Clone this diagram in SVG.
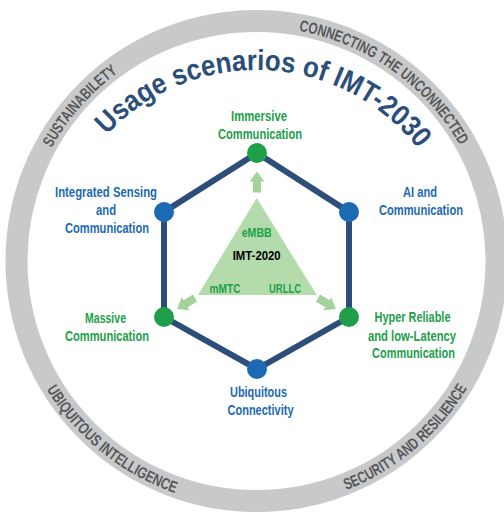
<svg xmlns="http://www.w3.org/2000/svg" width="504" height="513" viewBox="0 0 504 513">
<style>
.lbl{font-family:"Liberation Sans",Arial,sans-serif;font-weight:bold;font-size:15px;text-anchor:middle}
.g{fill:#22a04b}
.b{fill:#1d6ab3}
.ring{font-family:"Liberation Sans",Arial,sans-serif;font-weight:bold;font-size:16px;fill:#58595b}
.title{font-family:"Liberation Sans",Arial,sans-serif;font-weight:bold;font-size:29px;fill:#2b4e7b}
.tri{font-family:"Liberation Sans",Arial,sans-serif;font-weight:bold;font-size:13px;text-anchor:middle}
.edge{stroke:#2d4e79;stroke-width:6;fill:none;stroke-linecap:round}
.ng{fill:#1f9f4a}
.nb{fill:#1c6ab4}
.arr{fill:#a3d39a}
</style>
<defs>
<path id="titleArc" d="M51.5,275 A205,205 0 0 1 461.5,275"/>
<path id="topArc" d="M22.5,261 A234,234 0 0 1 490.5,261"/>
<path id="botArc" d="M10.5,261 A246,246 0 0 0 502.5,261"/>
<polygon id="arrow" points="0,-4 11,-4 11,-7.5 21,0 11,7.5 11,4 0,4"/>
</defs>
<rect width="504" height="513" fill="#ffffff"/>
<g id="ring">
<circle cx="256.5" cy="261" r="240" fill="none" stroke="#c8c9ca" stroke-width="22"/>
<text class="ring"><textPath href="#topArc" startOffset="118" textLength="101" lengthAdjust="spacingAndGlyphs">SUSTAINABILETY</textPath></text>
<text class="ring"><textPath href="#topArc" startOffset="410" textLength="204" lengthAdjust="spacingAndGlyphs">CONNECTING THE UNCONNECTED</textPath></text>
<text class="ring"><textPath href="#botArc" startOffset="135" textLength="168" lengthAdjust="spacingAndGlyphs">UBIQUITOUS INTELLIGENCE</textPath></text>
<text class="ring"><textPath href="#botArc" startOffset="478" textLength="161" lengthAdjust="spacingAndGlyphs">SECURITY AND RESILIENCE</textPath></text>
</g>
<g id="title">
<text class="title"><textPath href="#titleArc" startOffset="154" textLength="354" lengthAdjust="spacingAndGlyphs">Usage scenarios of IMT-2030</textPath></text>
</g>
<g id="connectors">
<polyline class="edge" points="257,153 349,212 349,317 257,369 164,317 164,212 257,153"/>
<use href="#arrow" class="arr" transform="translate(257,192.5) rotate(-90)"/>
<use href="#arrow" class="arr" transform="translate(195,298) rotate(148.6)"/>
<use href="#arrow" class="arr" transform="translate(318,298) rotate(31.4)"/>
</g>
<g id="imt2020">
<polygon points="256.7,198 198,295 316.7,295" fill="#b3dbab"/>
<text class="tri g" x="256.7" y="236.7" textLength="30" lengthAdjust="spacingAndGlyphs">eMBB</text>
<text class="tri" x="256.7" y="260" fill="#000000" textLength="48" lengthAdjust="spacingAndGlyphs">IMT-2020</text>
<text class="tri g" x="225" y="292.7" textLength="31" lengthAdjust="spacingAndGlyphs">mMTC</text>
<text class="tri g" x="285" y="292.7" textLength="32" lengthAdjust="spacingAndGlyphs">URLLC</text>
</g>
<g id="immersive">
<circle class="ng" cx="257" cy="153" r="10"/>
<text class="lbl g" x="259" y="120.5" textLength="56" lengthAdjust="spacingAndGlyphs">Immersive</text>
<text class="lbl g" x="260" y="139" textLength="84" lengthAdjust="spacingAndGlyphs">Communication</text>
</g>
<g id="ai">
<circle class="nb" cx="349" cy="212" r="10"/>
<text class="lbl b" x="420" y="196.7" textLength="34" lengthAdjust="spacingAndGlyphs">AI and</text>
<text class="lbl b" x="421" y="215" textLength="84" lengthAdjust="spacingAndGlyphs">Communication</text>
</g>
<g id="hrllc">
<circle class="ng" cx="349" cy="317" r="10"/>
<text class="lbl g" x="412.5" y="322.3" textLength="76" lengthAdjust="spacingAndGlyphs">Hyper Reliable</text>
<text class="lbl g" x="412" y="340.7" textLength="88" lengthAdjust="spacingAndGlyphs">and low-Latency</text>
<text class="lbl g" x="413.5" y="358.3" textLength="83" lengthAdjust="spacingAndGlyphs">Communication</text>
</g>
<g id="ubiquitous">
<circle class="nb" cx="257" cy="369" r="10"/>
<text class="lbl b" x="258.5" y="397" textLength="57" lengthAdjust="spacingAndGlyphs">Ubiquitous</text>
<text class="lbl b" x="260.5" y="415" textLength="66" lengthAdjust="spacingAndGlyphs">Connectivity</text>
</g>
<g id="massive">
<circle class="ng" cx="164" cy="317" r="10"/>
<text class="lbl g" x="105.5" y="322.7" textLength="41" lengthAdjust="spacingAndGlyphs">Massive</text>
<text class="lbl g" x="107" y="340.7" textLength="84" lengthAdjust="spacingAndGlyphs">Communication</text>
</g>
<g id="isac">
<circle class="nb" cx="164" cy="212" r="10"/>
<text class="lbl b" x="106" y="197" textLength="102" lengthAdjust="spacingAndGlyphs">Integrated Sensing</text>
<text class="lbl b" x="106" y="215" textLength="20" lengthAdjust="spacingAndGlyphs">and</text>
<text class="lbl b" x="107" y="233" textLength="84" lengthAdjust="spacingAndGlyphs">Communication</text>
</g>
</svg>
